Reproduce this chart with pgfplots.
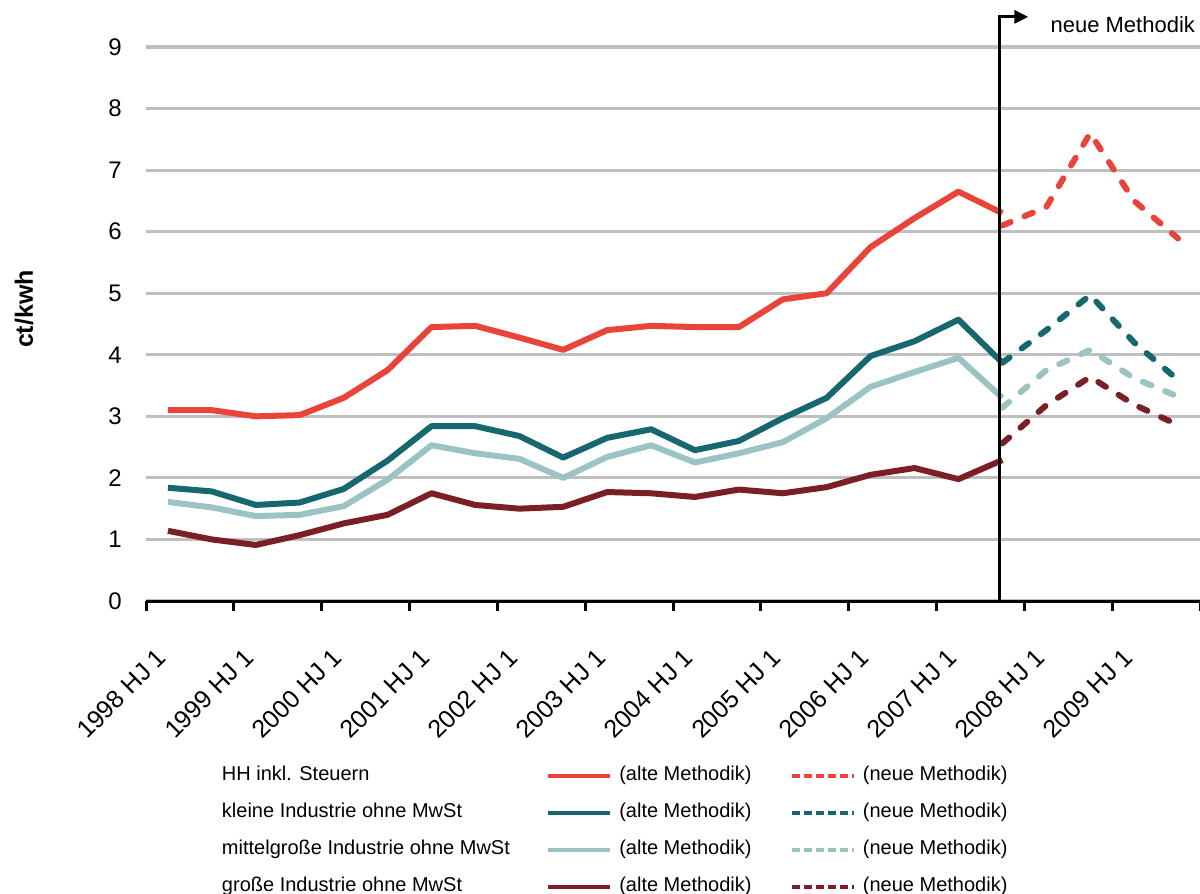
\documentclass[border=0pt]{standalone}
\usepackage{fontspec}
\setmainfont{Liberation Sans}
\usepackage{pgfplots}
\pgfplotsset{compat=1.18}
\usetikzlibrary{arrows.meta}
\definecolor{cHH}{HTML}{E8443A}
\definecolor{cKl}{HTML}{17676F}
\definecolor{cMi}{HTML}{9CC3C3}
\definecolor{cGr}{HTML}{7B1F26}
\definecolor{gridgray}{HTML}{BFBFBF}
\pgfplotstableread{
x hh kl mi gr
0 3.10 1.84 1.61 1.14
1 3.10 1.78 1.52 1.00
2 3.00 1.56 1.38 0.91
3 3.02 1.60 1.40 1.07
4 3.30 1.82 1.54 1.26
5 3.75 2.28 1.97 1.40
6 4.45 2.84 2.53 1.75
7 4.47 2.84 2.40 1.56
8 4.28 2.68 2.31 1.50
9 4.08 2.33 2.00 1.53
10 4.40 2.65 2.34 1.77
11 4.47 2.79 2.53 1.75
12 4.45 2.45 2.25 1.69
13 4.45 2.60 2.40 1.81
14 4.90 2.97 2.58 1.75
15 5.00 3.30 2.97 1.85
16 5.75 3.98 3.48 2.05
17 6.22 4.22 3.72 2.16
18 6.65 4.57 3.95 1.98
19 6.30 3.87 3.30 2.29
}\alte
\pgfplotstableread{
x hh kl mi gr
19 6.10 3.87 3.14 2.56
20 6.40 4.40 3.75 3.18
21 7.60 4.97 4.08 3.64
22 6.50 4.20 3.62 3.19
23 5.89 3.59 3.32 2.86
}\neue
\begin{document}
\begin{tikzpicture}
\begin{axis}[
  at={(73bp,146.5bp)}, anchor=south west,
  scale only axis, width=527bp, height=277bp,
  xmin=-0.5, xmax=23.5, ymin=0, ymax=9,
  clip=false,
  axis x line*=bottom, axis y line*=left,
  y axis line style={draw=none},
  x axis line style={line width=1.5bp, black},
  xtick={0,2,...,22},
  xticklabels={1998 HJ 1,1999 HJ 1,2000 HJ 1,2001 HJ 1,2002 HJ 1,2003 HJ 1,2004 HJ 1,2005 HJ 1,2006 HJ 1,2007 HJ 1,2008 HJ 1,2009 HJ 1},
  minor xtick={-0.5,1.5,...,23.5},
  major tick length=0pt,
  minor tick length=5bp,
  tick align=outside,
  minor tick style={line width=1.5bp, black},
  ytick={0,1,...,9},
  ymajorgrids,
  major grid style={line width=1.6bp, color=gridgray},
  /pgf/number format/assume math mode=true,
  tick label style={font=\fontsize{12bp}{14bp}\selectfont},
  yticklabel style={anchor=east, inner sep=0pt, xshift=-12bp},
  xticklabel style={inner sep=0pt, xshift=-3bp, yshift=-26bp, rotate=45, anchor=east, font=\fontsize{12.5bp}{14bp}\selectfont},
  ylabel={ct/kwh},
  ylabel style={at={(axis description cs:-0.1157,0.527)}, anchor=center, font=\fontsize{12.5bp}{14bp}\selectfont\bfseries},
  legend columns=3,
  legend cell align=left,
  legend style={
    at={(axis description cs:0.0721,-0.2978)}, anchor=north west,
    draw=none, fill=none, inner sep=0pt, outer sep=0pt,
    font=\fontsize{10bp}{12bp}\selectfont,
    row sep=8.5bp,
    nodes={inner sep=0pt, text height=7.5bp, text depth=2.5bp},
    /tikz/column 1/.style={column sep=0pt},
    /tikz/column 2/.style={column sep=18bp},
    /tikz/column 3/.style={column sep=3.5bp},
    /tikz/column 4/.style={column sep=19bp},
    /tikz/column 5/.style={column sep=3.5bp},
  },
  legend image code/.code={\draw[#1] (0bp,0bp) -- (31bp,0bp);},
  every axis plot/.append style={line width=3bp, line join=round},
]
\addplot[cHH, forget plot] table[x=x,y=hh] {\alte};
\addplot[cKl, forget plot] table[x=x,y=kl] {\alte};
\addplot[cMi, forget plot] table[x=x,y=mi] {\alte};
\addplot[cGr, forget plot] table[x=x,y=gr] {\alte};
\addplot[cHH, forget plot, line cap=round, dash pattern=on 4.5bp off 7.5bp] table[x=x,y=hh] {\neue};
\addplot[cKl, forget plot, line cap=round, dash pattern=on 4.5bp off 7.5bp] table[x=x,y=kl] {\neue};
\addplot[cMi, forget plot, line cap=round, dash pattern=on 4.5bp off 7.5bp] table[x=x,y=mi] {\neue};
\addplot[cGr, forget plot, line cap=round, dash pattern=on 4.5bp off 7.5bp] table[x=x,y=gr] {\neue};
\addlegendimage{empty legend}\addlegendentry{HH inkl. Steuern}
\addlegendimage{cHH, line width=2.2bp}\addlegendentry{(alte Methodik)}
\addlegendimage{cHH, line width=2.2bp, dash pattern=on 4bp off 2bp}\addlegendentry{(neue Methodik)}
\addlegendimage{empty legend}\addlegendentry{kleine Industrie ohne MwSt}
\addlegendimage{cKl, line width=2.2bp}\addlegendentry{(alte Methodik)}
\addlegendimage{cKl, line width=2.2bp, dash pattern=on 4bp off 2bp}\addlegendentry{(neue Methodik)}
\addlegendimage{empty legend}\addlegendentry{mittelgroße Industrie ohne MwSt}
\addlegendimage{cMi, line width=2.2bp}\addlegendentry{(alte Methodik)}
\addlegendimage{cMi, line width=2.2bp, dash pattern=on 4bp off 2bp}\addlegendentry{(neue Methodik)}
\addlegendimage{empty legend}\addlegendentry{große Industrie ohne MwSt}
\addlegendimage{cGr, line width=2.2bp}\addlegendentry{(alte Methodik)}
\addlegendimage{cGr, line width=2.2bp, dash pattern=on 4bp off 2bp}\addlegendentry{(neue Methodik)}
\draw[black, line width=1.5bp, -{Triangle[length=7bp,width=6.5bp]}] (axis cs:18.93,0) -- (axis cs:18.93,9.49) -- (axis cs:19.59,9.49);
\node[anchor=west, inner sep=0pt, font=\fontsize{11bp}{13bp}\selectfont] at (axis cs:20.09,9.37) {neue Methodik};
\end{axis}
\pgfresetboundingbox
\useasboundingbox (0,0) rectangle (600bp,447bp);
\end{tikzpicture}
\end{document}
